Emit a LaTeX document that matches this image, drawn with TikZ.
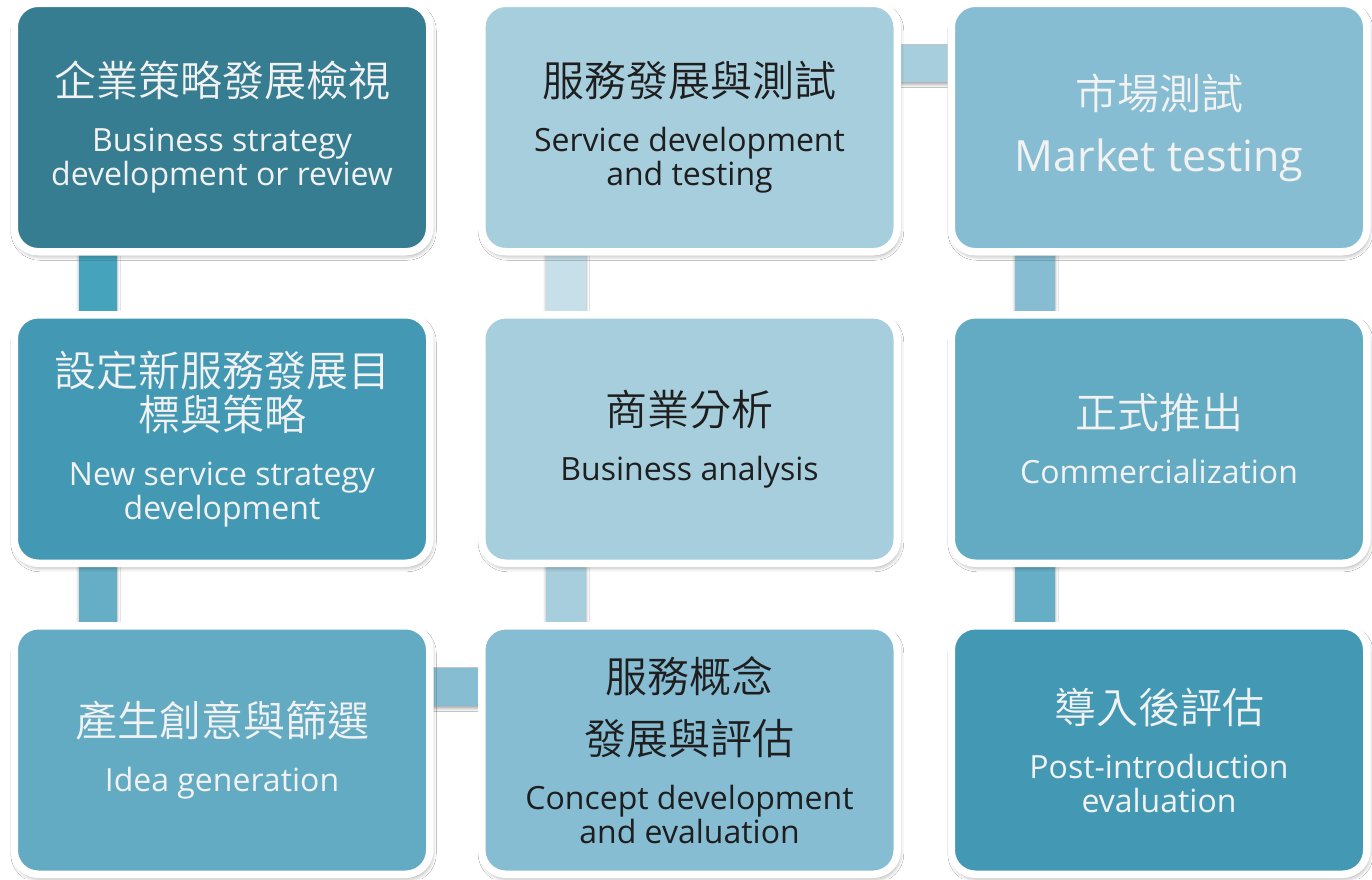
\documentclass[tikz,border=0pt]{standalone}
\usepackage{fontspec}
\setmainfont{Open Sans}
\newfontfamily\cjkfont{Noto Sans CJK TC DemiLight}
\usetikzlibrary{shadows.blur}

% stage fills, darkest to lightest
\definecolor{tealA}{HTML}{367D91}
\definecolor{tealB}{HTML}{4399B3}
\definecolor{tealC}{HTML}{63AAC3}
\definecolor{tealD}{HTML}{86BDD3}
\definecolor{tealE}{HTML}{A7CEDD}
% link fills
\definecolor{linkA}{HTML}{46A3BC}
\definecolor{linkB}{HTML}{66AEC6}
\definecolor{linkC}{HTML}{86BDD3}
\definecolor{linkD}{HTML}{A7CEDC}
\definecolor{linkE}{HTML}{C6DFE8}
% text
\definecolor{txtlight}{HTML}{F2F2F2}
\definecolor{txtdark}{HTML}{1E1E1E}

\newcommand\zhline[1]{{\cjkfont\fontsize{42}{42}\selectfont #1}}
\newcommand\enfont{\fontsize{32}{34}\selectfont}
\newcommand\bigen[1]{{\fontsize{43}{43}\selectfont #1}}

\tikzset{
  stage/.style={rectangle, rounded corners=24pt, draw=white, line width=7.5pt,
    minimum width=415.5pt, minimum height=248.5pt, inner sep=0pt,
    align=center, font=\enfont, fill=#1,
    blur shadow={shadow xshift=1.5pt, shadow yshift=-3.5pt,
      shadow blur radius=5pt, shadow opacity=45}},
  lighttext/.style={text=txtlight},
  darktext/.style={text=txtdark},
  link/.style={fill=#1,
    blur shadow={shadow xshift=0pt, shadow yshift=-2.5pt,
      shadow blur radius=3pt, shadow opacity=35}},
}

\begin{document}
\begin{tikzpicture}[x=1pt, y=-1pt]
  \useasboundingbox[fill=white] (0,0) rectangle (1372,879);

  % stage centres
  \path
    (222,127.5)  coordinate (p1)
    (222,439)    coordinate (p2)
    (222,750)    coordinate (p3)
    (689.5,750)  coordinate (p4)
    (689.5,439)  coordinate (p5)
    (689.5,127.5) coordinate (p6)
    (1159,127.5) coordinate (p7)
    (1159,439)   coordinate (p8)
    (1159,750)   coordinate (p9);

  % links between consecutive stages (drawn underneath)
  \path[link=linkA] ([xshift=-143pt,yshift=-100pt]p1) rectangle ([xshift=-105pt,yshift=100pt]p2);
  \path[link=linkB] ([xshift=-143pt,yshift=-100pt]p2) rectangle ([xshift=-105pt,yshift=100pt]p3);
  \path[link=linkC] ([xshift=150pt,yshift=82pt]p3) rectangle ([xshift=-150pt,yshift=44pt]p4);
  \path[link=linkD] ([xshift=-143.5pt,yshift=100pt]p4) rectangle ([xshift=-103.5pt,yshift=-100pt]p5);
  \path[link=linkE] ([xshift=-143.5pt,yshift=100pt]p5) rectangle ([xshift=-103.5pt,yshift=-100pt]p6);
  \path[link=linkD] ([xshift=150pt,yshift=82.5pt]p6) rectangle ([xshift=-150pt,yshift=45.5pt]p7);
  \path[link=linkC] ([xshift=-144pt,yshift=-100pt]p7) rectangle ([xshift=-104pt,yshift=100pt]p8);
  \path[link=linkB] ([xshift=-144pt,yshift=-100pt]p8) rectangle ([xshift=-104pt,yshift=100pt]p9);

  % the nine stages
  \node[stage=tealA, lighttext] (s1) at (p1)
    {\zhline{企業策略發展檢視}\\[21pt]Business strategy\\development or review};
  \node[stage=tealB, lighttext] (s2) at (p2)
    {\zhline{設定新服務發展目}\\[4pt]\zhline{標與策略}\\[21pt]New service strategy\\development};
  \node[stage=tealC, lighttext] (s3) at (p3)
    {\zhline{產生創意與篩選}\\[21pt]Idea generation};
  \node[stage=tealD, darktext] (s4) at (p4)
    {\zhline{服務概念}\\[22pt]\zhline{發展與評估}\\[21pt]Concept development\\and evaluation};
  \node[stage=tealE, darktext] (s5) at (p5)
    {\zhline{商業分析}\\[21pt]Business analysis};
  \node[stage=tealE, darktext] (s6) at (p6)
    {\zhline{服務發展與測試}\\[21pt]Service development\\and testing};
  \node[stage=tealD, lighttext] (s7) at (p7)
    {\zhline{市場測試}\\[25pt]\bigen{Market testing}};
  \node[stage=tealC, lighttext] (s8) at (p8)
    {\zhline{正式推出}\\[21pt]Commercialization};
  \node[stage=tealB, lighttext] (s9) at (p9)
    {\zhline{導入後評估}\\[21pt]Post-introduction\\evaluation};
\end{tikzpicture}
\end{document}
